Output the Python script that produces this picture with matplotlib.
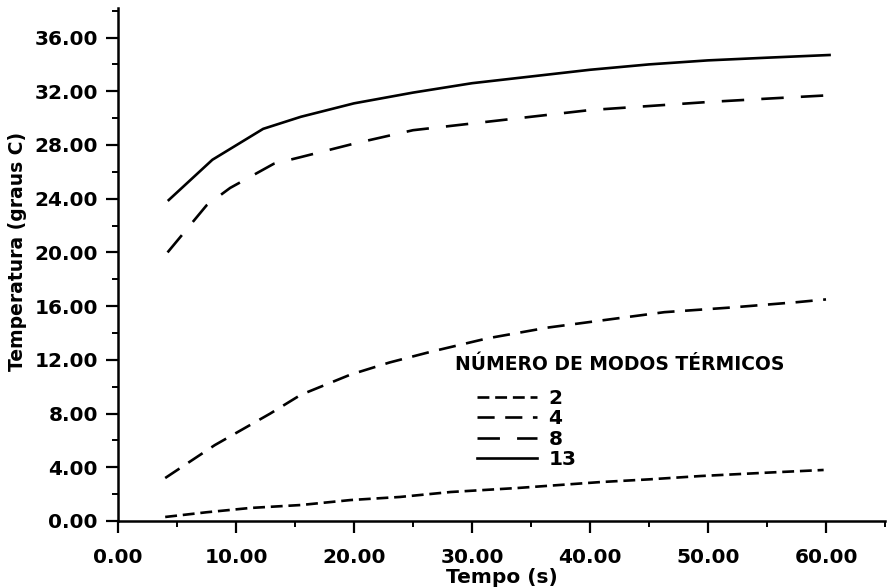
import matplotlib
matplotlib.use("Agg")
import matplotlib.pyplot as plt
from matplotlib.ticker import MultipleLocator, FormatStrFormatter

plt.rcParams['font.family'] = ['DejaVu Sans']
plt.rcParams['font.weight'] = 'bold'
plt.rcParams['axes.labelweight'] = 'bold'

# ---- data ----
t2 = [4.0, 7.5, 11.2, 15.5, 19.7, 23.9, 28.2, 33.9, 40.9, 45.0, 49.4, 55.0, 59.8]
y2 = [0.3, 0.65, 0.97, 1.19, 1.56, 1.79, 2.16, 2.46, 2.9, 3.1, 3.35, 3.6, 3.8]

t4 = [4.0, 8.2, 12.9, 15.5, 19.7, 23.0, 26.5, 31.3, 36.4, 41.2, 46.3, 52.0, 57.6, 60.0]
y4 = [3.2, 5.65, 8.0, 9.4, 10.9, 11.8, 12.6, 13.6, 14.4, 14.96, 15.55, 15.9, 16.3, 16.5]

t8 = [4.2, 7.5, 9.5, 13.2, 15.5, 20.0, 25.0, 30.0, 35.0, 40.0, 45.0, 50.0, 55.0, 60.2]
y8 = [20.0, 23.5, 24.8, 26.6, 27.1, 28.1, 29.1, 29.6, 30.1, 30.6, 30.9, 31.2, 31.45, 31.7]

t13 = [4.3, 8.0, 12.3, 15.5, 20.0, 25.0, 30.0, 35.0, 40.0, 45.0, 50.0, 55.0, 60.3]
y13 = [23.9, 26.9, 29.2, 30.1, 31.1, 31.9, 32.6, 33.1, 33.6, 34.0, 34.3, 34.5, 34.7]

labels = ['2', '4', '8', '13']
legend_title = 'NÚMERO DE MODOS TÉRMICOS'
xlabel = 'Tempo (s)'
ylabel = 'Temperatura (graus C)'

# ---- figure ----
fig = plt.figure(figsize=(8.88, 5.88), dpi=100)
ax = fig.add_axes([118 / 888, 1 - 521 / 588, (885 - 118) / 888, (521 - 8) / 588])

lw = 1.9
l2, = ax.plot(t2, y2, color='black', lw=lw, dashes=(4.5, 2.2))
l4, = ax.plot(t4, y4, color='black', lw=lw, dashes=(6.5, 4.0))
l8, = ax.plot(t8, y8, color='black', lw=lw, dashes=(8.5, 6.5))
l13, = ax.plot(t13, y13, color='black', lw=lw)

ax.set_xlim(0, 65)
ax.set_ylim(0, 38.2)
ax.xaxis.set_major_locator(MultipleLocator(10))
ax.xaxis.set_minor_locator(MultipleLocator(5))
ax.yaxis.set_major_locator(MultipleLocator(4))
ax.yaxis.set_minor_locator(MultipleLocator(2))
ax.xaxis.set_major_formatter(FormatStrFormatter('%.2f'))
ax.yaxis.set_major_formatter(FormatStrFormatter('%.2f'))

for s in ['top', 'right']:
    ax.spines[s].set_visible(False)
for s in ['left', 'bottom']:
    ax.spines[s].set_linewidth(1.8)

ax.tick_params(axis='both', which='major', direction='out', length=8.5, width=1.6,
               labelsize=14.5, color='black')
ax.tick_params(axis='both', which='minor', direction='out', length=4.5, width=1.4)
ax.tick_params(axis='x', which='major', pad=11)
ax.tick_params(axis='y', which='major', pad=6)

ax.set_xlabel(xlabel, fontsize=14.5, fontweight='bold', labelpad=1)
ax.set_ylabel(ylabel, fontsize=13.5, fontweight='bold', labelpad=4)
ax.yaxis.set_label_coords(-0.118, 0.526)

ax.text(0.439, 0.306, legend_title, transform=ax.transAxes, fontsize=13.5,
        fontweight='bold', ha='left', va='center')
ax.legend([l2, l4, l8, l13], labels, loc='upper left', bbox_to_anchor=(0.468, 0.258),
          frameon=False, prop={'size': 14.5, 'weight': 'bold'}, handlelength=3.0,
          handletextpad=0.55, borderpad=0, borderaxespad=0, labelspacing=0.08)

fig.savefig('out.png', dpi=100, facecolor='white')
